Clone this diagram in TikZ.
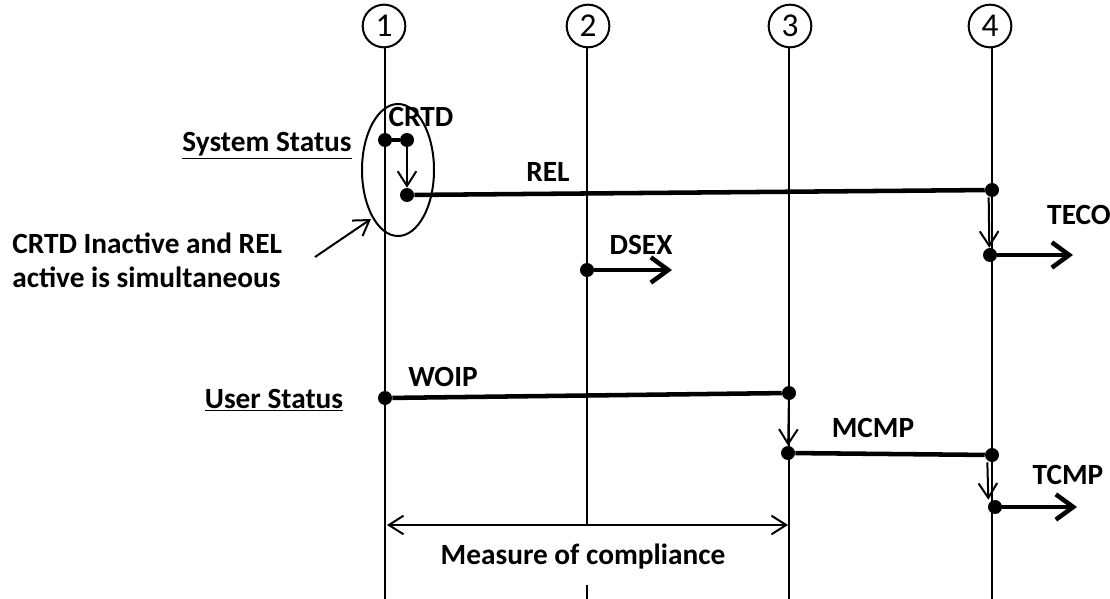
\documentclass[tikz,border=0pt]{standalone}
\usepackage{fontspec}
\setmainfont{Carlito}
\usetikzlibrary{arrows.meta,shapes.geometric}
\begin{document}
\begin{tikzpicture}[x=0.75pt,y=-0.75pt,
  life/.style={line width=1.5pt},
  heavy/.style={line width=3.4pt},
  thinarrow/.style={line width=1.5pt,-{Straight Barb[length=11pt,width=14pt,line width=1.5pt]}},
  heavyarrow/.style={line width=3.4pt,-{Straight Barb[length=13pt,width=19pt,line width=3.4pt]}},
  dot/.style={circle,fill=black,inner sep=0pt,minimum size=10.5pt},
  lbl/.style={font=\bfseries\fontsize{22}{26}\selectfont,inner sep=0pt},
  num/.style={circle,draw,line width=1.5pt,minimum size=32pt,inner sep=0pt,font=\fontsize{25}{28}\selectfont}
]
\useasboundingbox (0,0) rectangle (1110,599);

% numbered circles
\node[num] (c1) at (384,26) {1};
\node[num] (c2) at (588,26) {2};
\node[num] (c3) at (790,26) {3};
\node[num] (c4) at (990,26) {4};

% lifeline ends
\coordinate (b1) at (385,599);
\coordinate (b2a) at (587,525);
\coordinate (b2b) at (587,585);
\coordinate (b2) at (587,599);
\coordinate (b3) at (789,599);
\coordinate (b4) at (992,599);

\draw[life] (c1.south -| b1) -- (b1);
\draw[life] (c2.south -| b2) -- (b2a);
\draw[life] (b2b) -- (b2);
\draw[life] (c3.south -| b3) -- (b3);
\draw[life] (c4.south -| b4) -- (b4);

% dots
\node[dot] (a1) at (385,140) {};
\node[dot] (a2) at (407,140) {};
\node[dot] (r1) at (407,195) {};
\node[dot] (r2) at (992,190) {};
\node[dot] (t1) at (990,255) {};
\node[dot] (d1) at (587,270) {};
\node[dot] (w1) at (385,398) {};
\node[dot] (w2) at (789,393) {};
\node[dot] (m1) at (788,453) {};
\node[dot] (m2) at (992,455) {};
\node[dot] (tc1) at (995,507) {};

\coordinate (tecoend) at (1073,255);
\coordinate (dsexend) at (672,270);
\coordinate (tcmpend) at (1077,507);

% system status
\draw[heavy] (a1) -- (a2);
\draw[thinarrow] (a2) -- (r1);
\draw[heavy] (r1) -- (r2);
\draw[thinarrow] ([xshift=-2.5pt]r2.south) -- ([xshift=-0.5pt]t1.north);
\draw[heavyarrow] (t1) -- (tecoend);
\draw[heavyarrow] (d1) -- (dsexend);

% user status
\draw[heavy] (w1) -- (w2);
\draw[thinarrow] (w2) -- (m1);
\draw[heavy] (m1) -- (m2);
\draw[thinarrow] ([xshift=-3.5pt]m2.south) -- ([xshift=-5pt]tc1.north);
\draw[heavyarrow] (tc1) -- (tcmpend);

% labels
\node[lbl] (lcrtd) at (421,117) {CRTD};
\node[lbl] (lrel) at (548,172) {REL};
\node[lbl] (lteco) at (1079,215) {TECO};
\node[lbl] (ldsex) at (641,245) {DSEX};
\node[lbl] (lwoip) at (443,377) {WOIP};
\node[lbl] (lmcmp) at (873,428) {MCMP};
\node[lbl] (ltcmp) at (1068,475) {TCMP};
\node[lbl] (lsys) at (267,146) {\underline{System Status}};
\node[lbl] (lusr) at (274,400) {\underline{User Status}};
\node[lbl,anchor=west,align=left,font=\bfseries\fontsize{22}{25.5}\selectfont] (lnote) at (12,260) {CRTD Inactive and REL\\active is simultaneous};

% ellipse and pointer
\node[ellipse,draw,line width=1.5pt,minimum width=54pt,minimum height=99pt,inner sep=0pt] (ell) at (398,170) {};
\coordinate (pstart) at (315,257);
\coordinate (pend) at (371,219);
\draw[thinarrow] (pstart) -- (pend);

% measure of compliance
\coordinate (ms) at (387,525);
\coordinate (me) at (788,525);
\draw[line width=1.5pt,{Straight Barb[length=11pt,width=14pt,line width=1.5pt]}-{Straight Barb[length=11pt,width=14pt,line width=1.5pt]}] (ms) -- (me);
\node[lbl] (lmeas) at (583,557) {Measure of compliance};
\end{tikzpicture}
\end{document}
